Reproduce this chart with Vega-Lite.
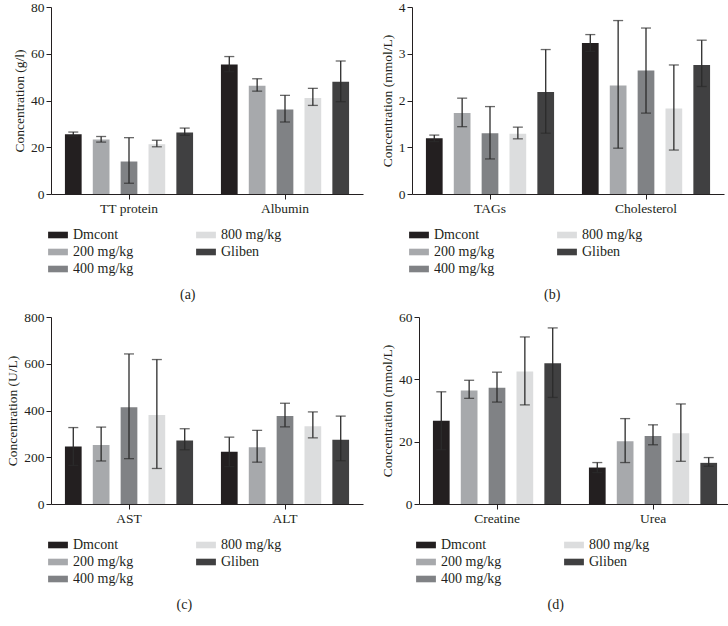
{
  "$schema": "https://vega.github.io/schema/vega-lite/v6.json",
  "padding": {"left": 5, "top": 0, "right": 0, "bottom": 0},
  "background": "white",
  "config": {
    "view": {"stroke": null},
    "font": "Liberation Serif",
    "axis": {"labelFont": "Liberation Serif", "titleFont": "Liberation Serif", "labelFontSize": 13.5, "titleFontSize": 13.5, "titleFontWeight": "normal", "labelColor": "#231f20", "titleColor": "#231f20", "domainColor": "#231f20", "tickColor": "#231f20", "grid": false, "tickSize": 5},
    "legend": {"labelFont": "Liberation Serif", "labelFontSize": 14, "labelColor": "#231f20", "columns": 2, "columnPadding": 62, "rowPadding": 3, "symbolType": "M-1.65,-0.55H1.65V0.55H-1.65Z", "symbolSize": 144, "symbolStrokeWidth": 0, "labelOffset": 8, "offset": 13, "title": null},
    "title": {"font": "Liberation Serif", "fontSize": 14, "fontWeight": "normal", "color": "#231f20", "orient": "bottom", "offset": 12, "frame": "bounds", "anchor": "middle"},
    "concat": {"spacing": 17}
  },
  "spacing": 8,
  "vconcat": [
    {
      "resolve": {"scale": {"color": "independent", "y": "independent"}, "legend": {"color": "independent"}},
      "hconcat": [
        {
          "title": "(a)",
          "width": 312, "height": 187,
          "data": {"values": [
            {"cat": "TT protein", "group": "Dmcont", "mean": 25.6, "lo": 24.8, "hi": 26.5},
            {"cat": "TT protein", "group": "200 mg/kg", "mean": 23.3, "lo": 22.2, "hi": 24.6},
            {"cat": "TT protein", "group": "400 mg/kg", "mean": 13.9, "lo": 4.6, "hi": 24.1},
            {"cat": "TT protein", "group": "800 mg/kg", "mean": 21.3, "lo": 20.2, "hi": 23.0},
            {"cat": "TT protein", "group": "Gliben", "mean": 26.3, "lo": 25.1, "hi": 28.2},
            {"cat": "Albumin", "group": "Dmcont", "mean": 55.4, "lo": 52.3, "hi": 58.8},
            {"cat": "Albumin", "group": "200 mg/kg", "mean": 46.3, "lo": 44.0, "hi": 49.3},
            {"cat": "Albumin", "group": "400 mg/kg", "mean": 36.1, "lo": 30.8, "hi": 42.2},
            {"cat": "Albumin", "group": "800 mg/kg", "mean": 41.1, "lo": 37.9, "hi": 45.2},
            {"cat": "Albumin", "group": "Gliben", "mean": 48.0, "lo": 39.5, "hi": 56.9}
          ]},
          "encoding": {
            "x": {"field": "cat", "type": "nominal", "sort": ["TT protein", "Albumin"], "scale": {"paddingInner": 0, "paddingOuter": 0}, "axis": {"title": null, "labelAngle": 0}},
            "xOffset": {"field": "group", "type": "nominal", "sort": ["Dmcont", "200 mg/kg", "400 mg/kg", "800 mg/kg", "Gliben"], "scale": {"paddingInner": 0.4, "paddingOuter": 0.5}}
          },
          "layer": [
            {"mark": {"type": "bar"}, "encoding": {
              "y": {"field": "mean", "type": "quantitative", "scale": {"domain": [0, 80]}, "axis": {"title": "Concentration (g/l)", "values": [0, 20, 40, 60, 80]}},
              "color": {"field": "group", "type": "nominal", "scale": {"domain": ["Dmcont", "800 mg/kg", "200 mg/kg", "Gliben", "400 mg/kg"], "range": ["#231f20", "#dcddde", "#a7a9ac", "#404041", "#808285"]}, "legend": {"orient": "bottom"}}
            }},
            {"mark": {"type": "rule", "color": "#2b2b2b", "strokeWidth": 1.3}, "encoding": {"y": {"field": "lo", "type": "quantitative"}, "y2": {"field": "hi"}}},
            {"mark": {"type": "tick", "color": "#2b2b2b", "thickness": 1.3, "size": 10}, "encoding": {"y": {"field": "hi", "type": "quantitative"}}},
            {"mark": {"type": "tick", "color": "#2b2b2b", "thickness": 1.3, "size": 10}, "encoding": {"y": {"field": "lo", "type": "quantitative"}}}
          ]
        },
        {
          "title": "(b)",
          "width": 312, "height": 187,
          "data": {"values": [
            {"cat": "TAGs", "group": "Dmcont", "mean": 1.19, "lo": 1.12, "hi": 1.26},
            {"cat": "TAGs", "group": "200 mg/kg", "mean": 1.73, "lo": 1.44, "hi": 2.05},
            {"cat": "TAGs", "group": "400 mg/kg", "mean": 1.30, "lo": 0.75, "hi": 1.87},
            {"cat": "TAGs", "group": "800 mg/kg", "mean": 1.29, "lo": 1.18, "hi": 1.43},
            {"cat": "TAGs", "group": "Gliben", "mean": 2.18, "lo": 1.30, "hi": 3.09},
            {"cat": "Cholesterol", "group": "Dmcont", "mean": 3.23, "lo": 3.05, "hi": 3.41},
            {"cat": "Cholesterol", "group": "200 mg/kg", "mean": 2.32, "lo": 0.98, "hi": 3.71},
            {"cat": "Cholesterol", "group": "400 mg/kg", "mean": 2.64, "lo": 1.73, "hi": 3.55},
            {"cat": "Cholesterol", "group": "800 mg/kg", "mean": 1.83, "lo": 0.94, "hi": 2.76},
            {"cat": "Cholesterol", "group": "Gliben", "mean": 2.76, "lo": 2.30, "hi": 3.29}
          ]},
          "encoding": {
            "x": {"field": "cat", "type": "nominal", "sort": ["TAGs", "Cholesterol"], "scale": {"paddingInner": 0, "paddingOuter": 0}, "axis": {"title": null, "labelAngle": 0}},
            "xOffset": {"field": "group", "type": "nominal", "sort": ["Dmcont", "200 mg/kg", "400 mg/kg", "800 mg/kg", "Gliben"], "scale": {"paddingInner": 0.4, "paddingOuter": 0.5}}
          },
          "layer": [
            {"mark": {"type": "bar"}, "encoding": {
              "y": {"field": "mean", "type": "quantitative", "scale": {"domain": [0, 4]}, "axis": {"title": "Concentration (mmol/L)", "values": [0, 1, 2, 3, 4]}},
              "color": {"field": "group", "type": "nominal", "scale": {"domain": ["Dmcont", "800 mg/kg", "200 mg/kg", "Gliben", "400 mg/kg"], "range": ["#231f20", "#dcddde", "#a7a9ac", "#404041", "#808285"]}, "legend": {"orient": "bottom"}}
            }},
            {"mark": {"type": "rule", "color": "#2b2b2b", "strokeWidth": 1.3}, "encoding": {"y": {"field": "lo", "type": "quantitative"}, "y2": {"field": "hi"}}},
            {"mark": {"type": "tick", "color": "#2b2b2b", "thickness": 1.3, "size": 10}, "encoding": {"y": {"field": "hi", "type": "quantitative"}}},
            {"mark": {"type": "tick", "color": "#2b2b2b", "thickness": 1.3, "size": 10}, "encoding": {"y": {"field": "lo", "type": "quantitative"}}}
          ]
        }
      ]
    },
    {
      "resolve": {"scale": {"color": "independent", "y": "independent"}, "legend": {"color": "independent"}},
      "hconcat": [
        {
          "title": "(c)",
          "width": 312, "height": 187,
          "data": {"values": [
            {"cat": "AST", "group": "Dmcont", "mean": 246, "lo": 165, "hi": 327},
            {"cat": "AST", "group": "200 mg/kg", "mean": 252, "lo": 184, "hi": 329},
            {"cat": "AST", "group": "400 mg/kg", "mean": 414, "lo": 194, "hi": 642},
            {"cat": "AST", "group": "800 mg/kg", "mean": 381, "lo": 152, "hi": 618},
            {"cat": "AST", "group": "Gliben", "mean": 272, "lo": 232, "hi": 322},
            {"cat": "ALT", "group": "Dmcont", "mean": 223, "lo": 160, "hi": 286},
            {"cat": "ALT", "group": "200 mg/kg", "mean": 243, "lo": 179, "hi": 315},
            {"cat": "ALT", "group": "400 mg/kg", "mean": 376, "lo": 330, "hi": 431},
            {"cat": "ALT", "group": "800 mg/kg", "mean": 333, "lo": 283, "hi": 394},
            {"cat": "ALT", "group": "Gliben", "mean": 275, "lo": 185, "hi": 376}
          ]},
          "encoding": {
            "x": {"field": "cat", "type": "nominal", "sort": ["AST", "ALT"], "scale": {"paddingInner": 0, "paddingOuter": 0}, "axis": {"title": null, "labelAngle": 0}},
            "xOffset": {"field": "group", "type": "nominal", "sort": ["Dmcont", "200 mg/kg", "400 mg/kg", "800 mg/kg", "Gliben"], "scale": {"paddingInner": 0.4, "paddingOuter": 0.5}}
          },
          "layer": [
            {"mark": {"type": "bar"}, "encoding": {
              "y": {"field": "mean", "type": "quantitative", "scale": {"domain": [0, 800]}, "axis": {"title": "Concentration (U/L)", "values": [0, 200, 400, 600, 800]}},
              "color": {"field": "group", "type": "nominal", "scale": {"domain": ["Dmcont", "800 mg/kg", "200 mg/kg", "Gliben", "400 mg/kg"], "range": ["#231f20", "#dcddde", "#a7a9ac", "#404041", "#808285"]}, "legend": {"orient": "bottom"}}
            }},
            {"mark": {"type": "rule", "color": "#2b2b2b", "strokeWidth": 1.3}, "encoding": {"y": {"field": "lo", "type": "quantitative"}, "y2": {"field": "hi"}}},
            {"mark": {"type": "tick", "color": "#2b2b2b", "thickness": 1.3, "size": 10}, "encoding": {"y": {"field": "hi", "type": "quantitative"}}},
            {"mark": {"type": "tick", "color": "#2b2b2b", "thickness": 1.3, "size": 10}, "encoding": {"y": {"field": "lo", "type": "quantitative"}}}
          ]
        },
        {
          "title": "(d)",
          "width": 312, "height": 187,
          "data": {"values": [
            {"cat": "Creatine", "group": "Dmcont", "mean": 26.7, "lo": 17.4, "hi": 36.0},
            {"cat": "Creatine", "group": "200 mg/kg", "mean": 36.4, "lo": 33.9, "hi": 39.7},
            {"cat": "Creatine", "group": "400 mg/kg", "mean": 37.3, "lo": 32.7, "hi": 42.3},
            {"cat": "Creatine", "group": "800 mg/kg", "mean": 42.5, "lo": 31.8, "hi": 53.6},
            {"cat": "Creatine", "group": "Gliben", "mean": 45.2, "lo": 34.2, "hi": 56.5},
            {"cat": "Urea", "group": "Dmcont", "mean": 11.7, "lo": 10.1, "hi": 13.3},
            {"cat": "Urea", "group": "200 mg/kg", "mean": 20.1, "lo": 13.3, "hi": 27.4},
            {"cat": "Urea", "group": "400 mg/kg", "mean": 21.8, "lo": 19.0, "hi": 25.4},
            {"cat": "Urea", "group": "800 mg/kg", "mean": 22.7, "lo": 13.7, "hi": 32.1},
            {"cat": "Urea", "group": "Gliben", "mean": 13.2, "lo": 12.1, "hi": 14.9}
          ]},
          "encoding": {
            "x": {"field": "cat", "type": "nominal", "sort": ["Creatine", "Urea"], "scale": {"paddingInner": 0, "paddingOuter": 0}, "axis": {"title": null, "labelAngle": 0}},
            "xOffset": {"field": "group", "type": "nominal", "sort": ["Dmcont", "200 mg/kg", "400 mg/kg", "800 mg/kg", "Gliben"], "scale": {"paddingInner": 0.4, "paddingOuter": 0.5}}
          },
          "layer": [
            {"mark": {"type": "bar"}, "encoding": {
              "y": {"field": "mean", "type": "quantitative", "scale": {"domain": [0, 60]}, "axis": {"title": "Concentration (mmol/L)", "values": [0, 20, 40, 60]}},
              "color": {"field": "group", "type": "nominal", "scale": {"domain": ["Dmcont", "800 mg/kg", "200 mg/kg", "Gliben", "400 mg/kg"], "range": ["#231f20", "#dcddde", "#a7a9ac", "#404041", "#808285"]}, "legend": {"orient": "bottom"}}
            }},
            {"mark": {"type": "rule", "color": "#2b2b2b", "strokeWidth": 1.3}, "encoding": {"y": {"field": "lo", "type": "quantitative"}, "y2": {"field": "hi"}}},
            {"mark": {"type": "tick", "color": "#2b2b2b", "thickness": 1.3, "size": 10}, "encoding": {"y": {"field": "hi", "type": "quantitative"}}},
            {"mark": {"type": "tick", "color": "#2b2b2b", "thickness": 1.3, "size": 10}, "encoding": {"y": {"field": "lo", "type": "quantitative"}}}
          ]
        }
      ]
    }
  ],
  "resolve": {"scale": {"color": "independent"}, "legend": {"color": "independent"}}
}
